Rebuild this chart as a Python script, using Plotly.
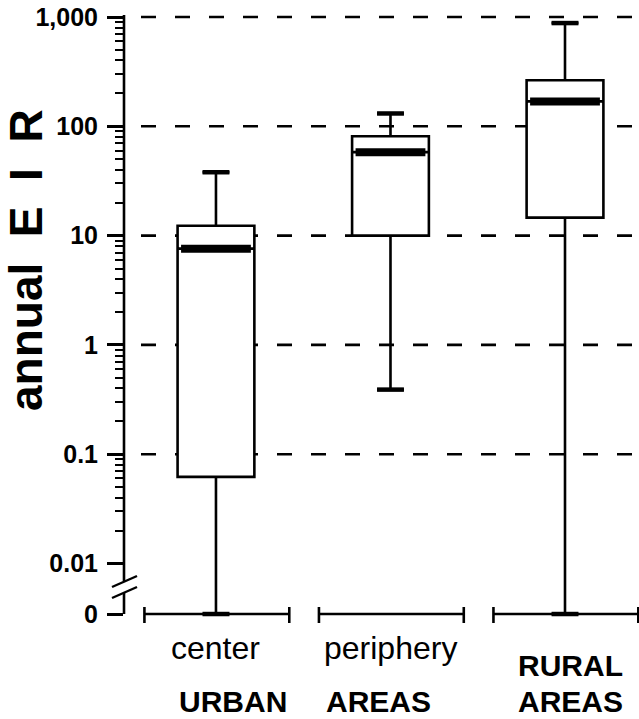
import math
import plotly.graph_objects as go

# ---------------- data ----------------
categories = ["center", "periphery", "rural"]
lower_whisker = [0, 0.39, 0]
q1_values = [0.062, 10.0, 14.6]
median_values = [7.6, 58.0, 169.0]
q3_values = [12.3, 81.0, 264.0]
upper_whisker = [38.0, 131.0, 880.0]

tick_values = [0.01, 0.1, 1, 10, 100, 1000]
tick_labels = ["0.01", "0.1", "1", "10", "100", "1,000"]
grid_values = [0.1, 1, 10, 100, 1000]
zero_label = "0"

# ---------------- layout constants ----------------
W, H = 639, 719
ML, MR, MT, MB = 124, 0, 10, 97
PLOT_H = H - MT - MB
PLOT_W = W - ML - MR
Y_LO, Y_HI = -2.535, 3.064          # log10 range of the y axis
ZERO_POS = 10 ** -2.462             # where the "0" (below the axis break) sits
X_LO, X_HI = -0.527, 2.424
BOX_W = 0.44
CAP_HALF = 0.077
MED_HALF = 0.2


def pos(v):
    return v if v > 0 else ZERO_POS


def py(p):  # pixel y -> paper y
    return (H - MB - p) / PLOT_H


def px(p):  # pixel x -> paper x
    return (p - ML) / PLOT_W


def ypaper_val(v):
    return (math.log10(v) - Y_LO) / (Y_HI - Y_LO)


fig = go.Figure()

# boxes
for i, c in enumerate(categories):
    fig.add_trace(go.Box(
        x=[i], q1=[q1_values[i]], median=[median_values[i]], q3=[q3_values[i]],
        lowerfence=[pos(lower_whisker[i])], upperfence=[upper_whisker[i]],
        width=BOX_W, whiskerwidth=0.35, boxpoints=False,
        fillcolor="white", line=dict(color="black", width=2.6),
        hoverinfo="skip", showlegend=False, name=c,
    ))

# thick median bars
for i, m in enumerate(median_values):
    fig.add_trace(go.Scatter(
        x=[i - MED_HALF, i + MED_HALF], y=[m, m], mode="lines",
        line=dict(color="black", width=8), hoverinfo="skip", showlegend=False,
    ))

# thick whisker caps
for i in range(len(categories)):
    for v in (pos(lower_whisker[i]), upper_whisker[i]):
        fig.add_trace(go.Scatter(
            x=[i - CAP_HALF, i + CAP_HALF], y=[v, v], mode="lines",
            line=dict(color="black", width=4.5), hoverinfo="skip",
            showlegend=False, cliponaxis=False,
        ))

shapes = []
for g in grid_values:
    yy = ypaper_val(g)
    shapes.append(dict(type="line", xref="paper", yref="paper",
                       x0=px(141), x1=1, y0=yy, y1=yy, layer="below",
                       line=dict(color="black", width=2.6, dash="15px,19px")))

# y axis line with a break
y_top = ypaper_val(1000) + 2 / PLOT_H
y_zero = ypaper_val(ZERO_POS)
shapes.append(dict(type="line", xref="paper", yref="paper", x0=0, x1=0,
                   y0=py(581), y1=y_top, line=dict(color="black", width=2.6)))
shapes.append(dict(type="line", xref="paper", yref="paper", x0=0, x1=0,
                   y0=y_zero, y1=py(593), line=dict(color="black", width=2.6)))
for off in (0, 11):
    shapes.append(dict(type="line", xref="paper", yref="paper",
                       x0=px(112), y0=py(587 + off), x1=px(137), y1=py(576 + off),
                       line=dict(color="black", width=2.4)))

# x brackets under each group
for i in range(len(categories)):
    yb = y_zero
    shapes.append(dict(type="line", xref="x", yref="paper", x0=i - 0.41, x1=i + 0.42,
                       y0=yb, y1=yb, line=dict(color="black", width=2.6)))
    for xe in (i - 0.41, i + 0.42):
        shapes.append(dict(type="line", xref="x", yref="paper", x0=xe, x1=xe,
                           y0=py(607), y1=py(623), line=dict(color="black", width=2.6)))

BOLD = dict(family="Liberation Sans", size=30, color="black", weight="bold")
REG = dict(family="Liberation Sans", size=32, color="black")


def label(text, x, ywin, font):
    return dict(text=text, xref="x", yref="paper", x=x, y=py(ywin), showarrow=False,
                xanchor="center", yanchor="middle", font=font)


annotations = [
    dict(text="annual  E  I  R", xref="paper", yref="paper", x=px(26), y=py(260),
         textangle=-90, showarrow=False, xanchor="center", yanchor="middle",
         font=dict(family="Liberation Sans", size=46, color="black", weight="bold")),
    label(categories[0], 0, 648, REG),
    label(categories[1], 1, 648, REG),
    label("RURAL", 2.03, 665, BOLD),
    label("AREAS", 2.03, 701, BOLD),
    label("URBAN", 0.097, 701, BOLD),
    label("AREAS", 0.93, 701, BOLD),
]

minor_vals = [m * 10 ** k for k in range(-2, 3) for m in range(2, 10)]

fig.update_layout(
    width=W, height=H, margin=dict(l=ML, r=MR, t=MT, b=MB, autoexpand=False),
    paper_bgcolor="white", plot_bgcolor="white",
    shapes=shapes, annotations=annotations, showlegend=False,
    xaxis=dict(range=[X_LO, X_HI], visible=False, showgrid=False, zeroline=False,
               automargin=False),
    yaxis=dict(
        type="log", range=[Y_LO, Y_HI], showgrid=False, showline=False, zeroline=False,
        automargin=False, ticklabeloverflow="allow",
        tickmode="array", tickvals=tick_values + [ZERO_POS], ticktext=tick_labels + [zero_label],
        ticks="outside", ticklen=16, tickwidth=2.6, tickcolor="black",
        ticklabelstandoff=4,
        tickfont=dict(family="Liberation Sans", size=25, color="black", weight="bold"),
        minor=dict(tickmode="array", tickvals=minor_vals, ticks="outside", ticklen=8,
                   tickwidth=2, tickcolor="black", showgrid=False),
    ),
)

fig.write_html("out.html", config={"displayModeBar": False},
               post_script="document.body.style.margin='0px';")
